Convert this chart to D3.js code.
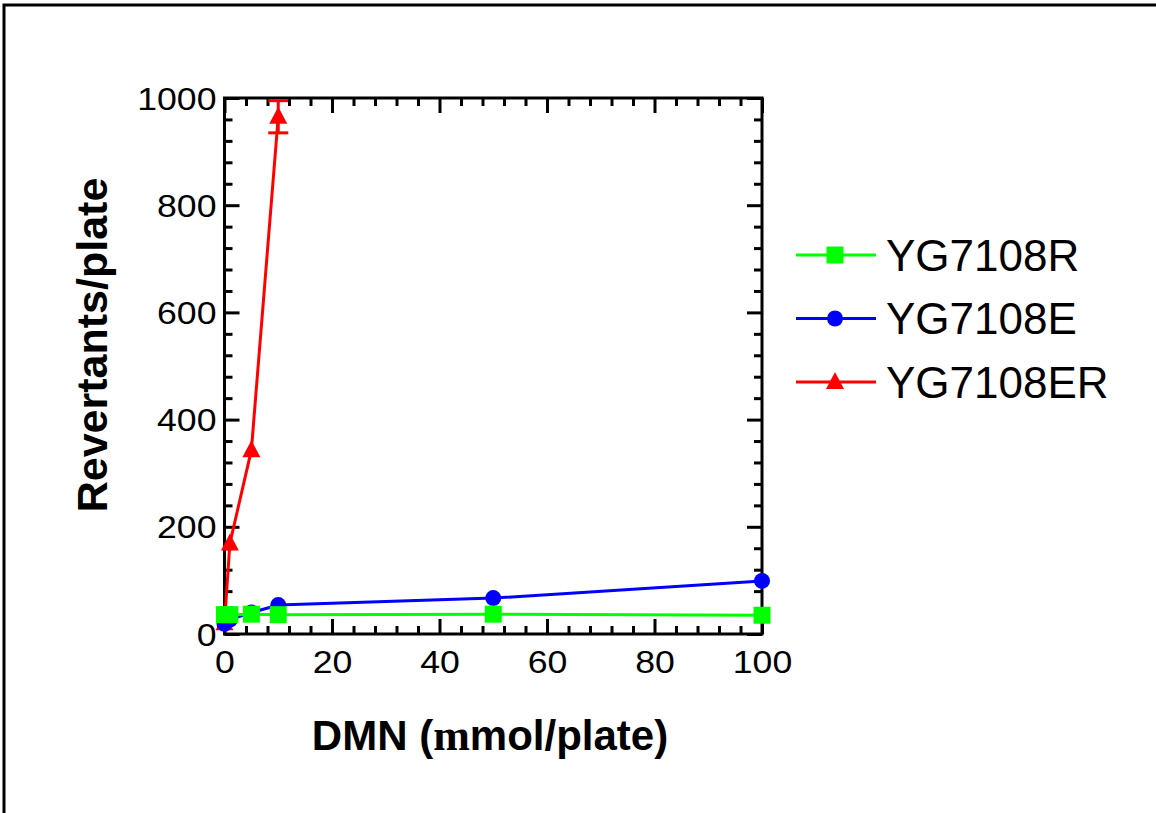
<!DOCTYPE html>
<html>
<head>
<meta charset="utf-8">
<script src="https://cdn.jsdelivr.net/npm/d3@7"></script>
<style>
  html, body { margin: 0; padding: 0; background: #fff; }
  svg { display: block; }
</style>
</head>
<body>
<svg id="chart" width="1156" height="813"></svg>
<script>
// Dose levels (µmol/plate) and mean revertants per plate for each strain
const doseR  = [0, 1, 5, 10, 50, 100];
const valR   = [36, 36, 37, 36, 37, 35];
const doseE  = [0, 1, 5, 10, 50, 100];
const valE   = [19, 27, 40, 54, 67, 99];
const doseER = [0, 1, 5, 10];
const valER  = [20, 169, 343, 965];
const errER  = [0, 0, 0, 30];

const seriesNames  = ["YG7108R", "YG7108E", "YG7108ER"];
const seriesColors = ["#00ff00", "#0000ff", "#ff0000"];
const seriesShapes = ["square", "circle", "triangle"];

const xTicks = [0, 20, 40, 60, 80, 100];
const yTicks = [0, 200, 400, 600, 800, 1000];
const xTitle = "DMN (";
const xTitleMu = "m";
const xTitleTail = "mol/plate)";
const yTitle = "Revertants/plate";

const svg = d3.select("#chart");
const W = 1156, H = 813;

// outer frame (top and left edges)
svg.append("path")
  .attr("d", `M4,${H} L4,5 L${W},5`)
  .attr("fill", "none").attr("stroke", "#000").attr("stroke-width", 3);

const x = d3.scaleLinear().domain([0, 100]).range([224.5, 762]);
const y = d3.scaleLinear().domain([0, 1000]).range([634, 98]);

const axisColor = "#000";
const major = 15, minor = 8;
const xMinor = d3.range(0, 101, 4).filter(v => v % 20 !== 0);
const yMinor = d3.range(0, 1001, 40).filter(v => v % 200 !== 0);

function styleAxis(g) {
  g.select(".domain").remove();
  g.selectAll(".tick line").attr("stroke", axisColor).attr("stroke-width", 3);
}

// bottom axis with labels
const gB = svg.append("g").attr("transform", `translate(0,${y(0)})`)
  .call(d3.axisBottom(x).tickValues(xTicks).tickSize(-major).tickFormat(d3.format("d")));
styleAxis(gB);
gB.selectAll(".tick text")
  .attr("y", 0).attr("dy", 0)
  .attr("transform", "translate(0,39) scale(1.15,1)")
  .attr("font-family", "Liberation Sans, Arial, sans-serif")
  .attr("font-size", 31).attr("fill", "#000");
svg.append("g").attr("transform", `translate(0,${y(0)})`)
  .call(d3.axisBottom(x).tickValues(xMinor).tickSize(-minor).tickFormat(""))
  .call(styleAxis);

// top axis (ticks only)
svg.append("g").attr("transform", `translate(0,${y(1000)})`)
  .call(d3.axisTop(x).tickValues(xTicks).tickSize(-major).tickFormat(""))
  .call(styleAxis);
svg.append("g").attr("transform", `translate(0,${y(1000)})`)
  .call(d3.axisTop(x).tickValues(xMinor).tickSize(-minor).tickFormat(""))
  .call(styleAxis);

// left axis with labels
const gL = svg.append("g").attr("transform", `translate(${x(0)},0)`)
  .call(d3.axisLeft(y).tickValues(yTicks).tickSize(-major).tickFormat(d3.format("d")));
styleAxis(gL);
gL.selectAll(".tick text")
  .attr("x", 0).attr("dy", "0.36em")
  .attr("transform", "translate(-8,0) scale(1.15,1)")
  .attr("font-family", "Liberation Sans, Arial, sans-serif")
  .attr("font-size", 31).attr("fill", "#000");
svg.append("g").attr("transform", `translate(${x(0)},0)`)
  .call(d3.axisLeft(y).tickValues(yMinor).tickSize(-minor).tickFormat(""))
  .call(styleAxis);

// right axis (ticks only)
svg.append("g").attr("transform", `translate(${x(100)},0)`)
  .call(d3.axisRight(y).tickValues(yTicks).tickSize(-major).tickFormat(""))
  .call(styleAxis);
svg.append("g").attr("transform", `translate(${x(100)},0)`)
  .call(d3.axisRight(y).tickValues(yMinor).tickSize(-minor).tickFormat(""))
  .call(styleAxis);

// plot frame
svg.append("rect")
  .attr("x", x(0)).attr("y", y(1000))
  .attr("width", x(100) - x(0)).attr("height", y(0) - y(1000))
  .attr("fill", "none").attr("stroke", "#000").attr("stroke-width", 3);

// marker drawing helper
function drawMarker(g, shape, cx, cy, color) {
  if (shape === "square") {
    g.append("rect").attr("x", cx - 8.5).attr("y", cy - 8.5)
      .attr("width", 17).attr("height", 17).attr("fill", color);
  } else if (shape === "circle") {
    g.append("circle").attr("cx", cx).attr("cy", cy).attr("r", 8).attr("fill", color);
  } else {
    g.append("path")
      .attr("d", `M${cx},${cy - 10} L${cx + 9},${cy + 7} L${cx - 9},${cy + 7} Z`)
      .attr("fill", color);
  }
}

const series = [
  { dose: doseR,  val: valR,  err: null,  i: 0 },
  { dose: doseE,  val: valE,  err: null,  i: 1 },
  { dose: doseER, val: valER, err: errER, i: 2 }
];

const line = d3.line().x(d => x(d[0])).y(d => y(d[1]));
const plot = svg.append("g");

// draw red first, green last
[2, 1, 0].forEach(k => {
  const s = series[k];
  const color = seriesColors[s.i];
  const pts = s.dose.map((d, j) => [d, s.val[j]]);
  const g = plot.append("g");
  g.append("path").datum(pts).attr("d", line)
    .attr("fill", "none").attr("stroke", color).attr("stroke-width", 3);
  if (s.err) {
    pts.forEach((p, j) => {
      const e = s.err[j];
      if (!e) return;
      const cx = x(p[0]);
      g.append("line").attr("x1", cx).attr("x2", cx)
        .attr("y1", y(p[1] + e)).attr("y2", y(p[1] - e))
        .attr("stroke", color).attr("stroke-width", 3);
      [p[1] + e, p[1] - e].forEach(v => {
        g.append("line").attr("x1", cx - 10).attr("x2", cx + 10)
          .attr("y1", y(v)).attr("y2", y(v))
          .attr("stroke", color).attr("stroke-width", 3);
      });
    });
  }
  pts.forEach(p => drawMarker(g, seriesShapes[s.i], x(p[0]), y(p[1]), color));
});

// legend
const legend = svg.append("g");
seriesNames.forEach((name, i) => {
  const ly = 255 + i * 63.5;
  legend.append("line").attr("x1", 796).attr("x2", 876)
    .attr("y1", ly).attr("y2", ly)
    .attr("stroke", seriesColors[i]).attr("stroke-width", 3);
  drawMarker(legend, seriesShapes[i], 835, ly, seriesColors[i]);
  legend.append("text").attr("x", 886).attr("y", ly + 15.5)
    .attr("font-family", "Liberation Sans, Arial, sans-serif")
    .attr("font-size", 44).attr("fill", "#000").text(name);
});

// axis titles
const xt = svg.append("text").attr("x", 490).attr("y", 750)
  .attr("text-anchor", "middle")
  .attr("font-family", "Liberation Sans, Arial, sans-serif")
  .attr("font-weight", "bold").attr("font-size", 42).attr("fill", "#000");
xt.append("tspan").text(xTitle);
xt.append("tspan").attr("font-family", "Liberation Serif, Times New Roman, serif")
  .attr("font-size", 44).text(xTitleMu);
xt.append("tspan").text(xTitleTail);

svg.append("text")
  .attr("transform", "translate(107,345) rotate(-90)")
  .attr("text-anchor", "middle")
  .attr("font-family", "Liberation Sans, Arial, sans-serif")
  .attr("font-weight", "bold").attr("font-size", 43).attr("fill", "#000")
  .text(yTitle);
</script>
</body>
</html>
